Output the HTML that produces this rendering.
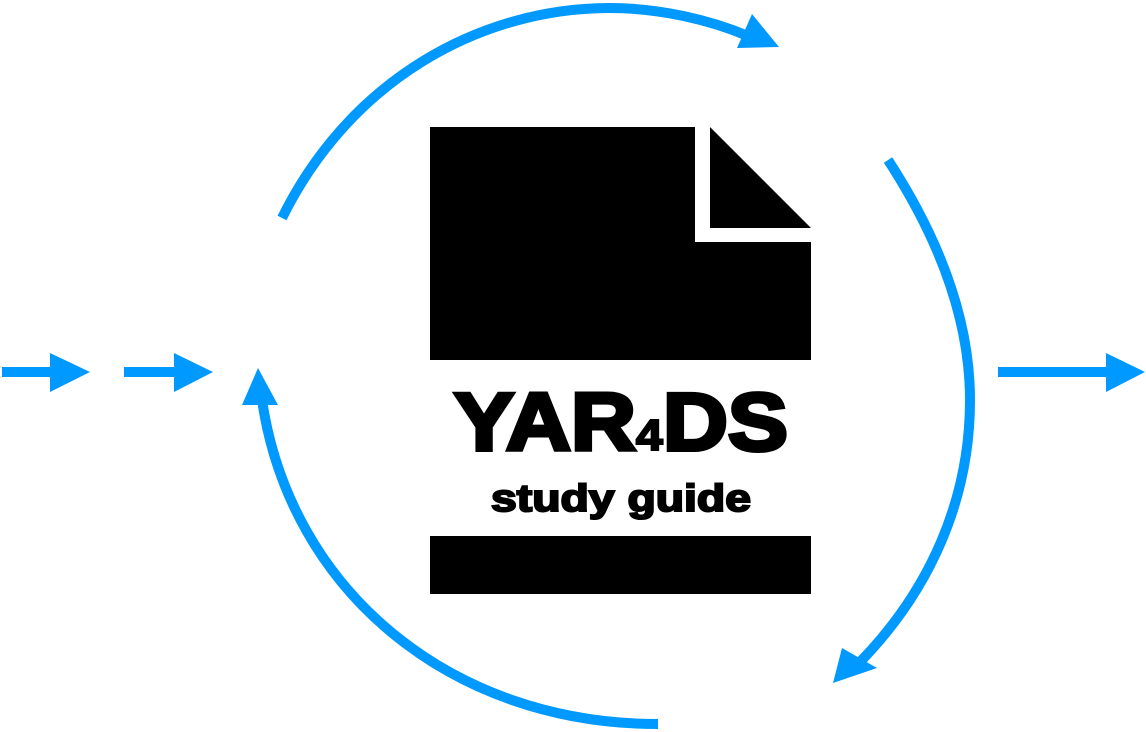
<!DOCTYPE html>
<html><head><meta charset="utf-8"><style>
html,body{margin:0;padding:0;background:#fff;}
svg{display:block}
</style></head><body>
<svg width="1146" height="732" viewBox="0 0 1146 732" xmlns="http://www.w3.org/2000/svg">
<g fill="none" stroke="#0099ff" stroke-width="10">
<path d="M282,218 C350,80 480,8 610,8 C660,8 710,20 748,36"/>
<path d="M888,160 C940,240 970,320 970,400 C970,500 930,590 860,662"/>
<path d="M658,724 C450,724 290,590 262,400"/>
<path d="M2,372 H55"/>
<path d="M124,372 H178"/>
<path d="M998,372 H1110"/>
</g>
<g fill="#0099ff">
<polygon points="752,14 779,47 737,48"/>
<polygon points="833,683 842,648 877,668"/>
<polygon points="258,368 242,405 278,405"/>
<polygon points="50,353 90,372 50,392"/>
<polygon points="174,353 213,372 174,392"/>
<polygon points="1106,353 1145,372 1106,392"/>
</g>
<polygon points="430,127 695,127 695,242 811,242 811,360 430,360" fill="#000"/>
<polygon points="710,127 811,228 710,228" fill="#000"/>
<rect x="430" y="536" width="381" height="58" fill="#000"/>
<text x="454" y="450" textLength="334" lengthAdjust="spacingAndGlyphs" font-family="Liberation Sans, sans-serif" font-weight="bold" font-size="82" stroke="#000" stroke-width="4">YAR<tspan font-size="44" stroke-width="2">4</tspan>DS</text>
<text x="491" y="511" textLength="260" lengthAdjust="spacingAndGlyphs" font-family="Liberation Sans, sans-serif" font-weight="bold" font-size="38" stroke="#000" stroke-width="2">study guide</text>
</svg>
</body></html>
